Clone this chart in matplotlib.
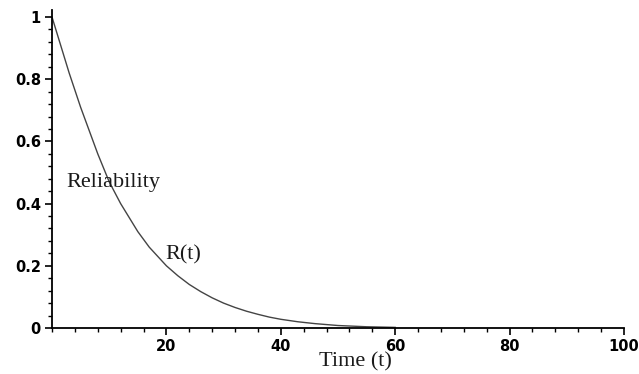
import matplotlib
matplotlib.use('Agg')
import matplotlib.pyplot as plt
from matplotlib.ticker import MultipleLocator

t = [0, 1, 2, 3, 4, 5, 6, 7, 8, 9, 10, 11, 12, 13, 14, 15, 16, 17, 18, 19, 20,
     22, 24, 26, 28, 30, 32, 34, 36, 38, 40, 43, 46, 50, 55, 60]
R = [1.0, 0.94, 0.88, 0.82, 0.765, 0.71, 0.66, 0.61, 0.56, 0.515, 0.47,
     0.435, 0.40, 0.37, 0.34, 0.31, 0.285, 0.26, 0.24, 0.22, 0.20,
     0.168, 0.14, 0.117, 0.097, 0.08, 0.066, 0.054, 0.044, 0.035, 0.028,
     0.02, 0.014, 0.008, 0.004, 0.002]

xticks = [20, 40, 60, 80, 100]
yticks = [0, 0.2, 0.4, 0.6, 0.8, 1]
ylabels = ['0', '0.2', '0.4', '0.6', '0.8', '1']

fig = plt.figure(figsize=(6.39, 3.74), dpi=100)
ax = fig.add_axes([52/639, 46/374, 572/639, 318/374])

ax.plot(t, R, color='#444444', lw=1.0)

ax.set_xlim(0, 100)
ax.set_ylim(0, 1.0225)
for s in ['top', 'right']:
    ax.spines[s].set_visible(False)
for s in ['left', 'bottom']:
    ax.spines[s].set_linewidth(1.3)

ax.set_xticks(xticks)
ax.set_xticklabels([str(v) for v in xticks])
ax.set_yticks(yticks)
ax.set_yticklabels(ylabels)
ax.xaxis.set_minor_locator(MultipleLocator(4))
ax.yaxis.set_minor_locator(MultipleLocator(0.04))
ax.tick_params(which='major', length=5, width=1.2, pad=3, direction='out')
ax.tick_params(which='minor', length=3, width=1.0, direction='out')
for lab in ax.get_xticklabels() + ax.get_yticklabels():
    lab.set_fontweight('bold')
    lab.set_fontsize(10.5)

serif = 'Liberation Serif'
ax.text(2.6, 0.453, 'Reliability', family=serif, fontsize=16, color='#1a1a1a', va='baseline')
ax.text(19.9, 0.22, 'R(t)', family=serif, fontsize=16, color='#1a1a1a', va='baseline')
ax.text(53, -0.125, 'Time (t)', family=serif, fontsize=16, color='#1a1a1a',
        ha='center', va='baseline', clip_on=False)

plt.savefig('out.png', dpi=100)
